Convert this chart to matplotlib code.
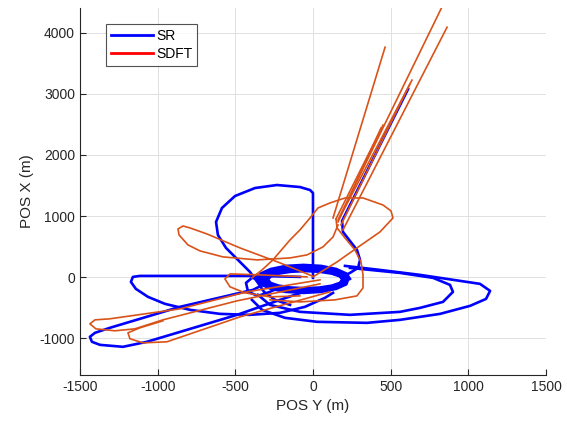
import matplotlib
matplotlib.use('Agg')
import matplotlib.pyplot as plt
from matplotlib.lines import Line2D

plt.rcParams['font.family'] = ['Liberation Sans', 'DejaVu Sans']
plt.rcParams['axes.unicode_minus'] = False

# SR trajectory pieces, (pos_y, pos_x) in metres
sr_descent = [(612, 3077), (187, 920), (193, 740), (238, 593), (283, 446),
              (303, 283), (290, 152), (238, 70), (215, 40)]
# the circling near the origin, outer turn to inner turn
sr_loops = [(238, -28), (215, 60), (150, 134), (54, 184), (-61, 201), (-176, 184),
            (-272, 134), (-337, 60), (-360, -28), (-337, -116), (-272, -190),
            (-176, -240), (-61, -257), (54, -240), (150, -190), (215, -116),
            (227, -31), (205, 47), (143, 114), (51, 158), (-58, 174), (-167, 158),
            (-259, 114), (-321, 47), (-343, -31), (-321, -109), (-259, -176),
            (-167, -220), (-58, -236), (51, -220), (143, -176), (205, -109),
            (215, -34), (194, 35), (136, 93), (48, 132), (-55, 146), (-158, 132),
            (-246, 93), (-304, 35), (-325, -34), (-304, -103), (-246, -161),
            (-158, -200), (-55, -214), (48, -200), (136, -161), (194, -103),
            (203, -37), (184, 24), (128, 76), (46, 111), (-52, 123), (-150, 111),
            (-232, 76), (-288, 24), (-307, -37), (-288, -98), (-232, -150),
            (-150, -185), (-52, -197), (46, -185), (128, -150), (184, -98),
            (190, -40), (172, 14), (120, 59), (42, 89), (-50, 100), (-142, 89),
            (-220, 59), (-272, 14), (-290, -40), (-272, -94), (-220, -139),
            (-142, -169), (-50, -180), (42, -169), (120, -139), (172, -94), (190, -40)]
sr_dome = [(0, -11), (0, 1377), (-19, 1426), (-84, 1475), (-232, 1508), (-373, 1459),
           (-502, 1328), (-586, 1132), (-624, 904), (-612, 691), (-560, 479),
           (-483, 283), (-406, 87), (-354, -93), (-315, -240), (-245, -371), (-148, -453)]
sr_left = [(-84, 5), (-360, 21), (-1114, 21), (-1159, 5), (-1172, -77), (-1140, -191),
           (-1062, -322), (-953, -436), (-792, -534), (-599, -600), (-406, -616),
           (-212, -583), (-52, -485), (77, -338), (129, -256)]
sr_tail = [(-296, -93), (-386, -207), (-856, -485), (-1307, -828), (-1403, -910),
           (-1436, -975), (-1423, -1057), (-1371, -1107), (-1223, -1139),
           (-1069, -1057), (-489, -616), (-212, -371), (-60, -240)]
sr_outer = [(206, 185), (431, 119), (689, 38), (946, -60), (1075, -109), (1140, -224),
            (1114, -355), (1011, -469), (818, -600), (560, -698), (348, -747),
            (26, -730), (-180, -665), (-328, -534), (-393, -371)]
sr_inner = [(238, 152), (560, 70), (773, -11), (882, -126), (901, -240), (837, -404),
            (689, -502), (560, -567), (238, -616), (-84, -567), (-277, -453), (-354, -289)]
sr_small = [(-309, -44), (-393, -11), (-431, -93), (-418, -240), (-354, -306),
            (-277, -240), (-200, -150)]

# SDFT trajectory pieces
spike_base = [(129, 969), (161, 936), (193, 773), (174, 985), (180, 855), (148, 953), (161, 904)]
spike_tip = [(464, 3763), (830, 4420), (863, 4090), (637, 3224), (624, 3159), (451, 2489), (438, 2440)]
sdft_down = [(148, 953), (155, 806), (206, 642), (270, 446), (309, 250), (322, 38),
             (322, -175), (283, -306), (142, -371), (-84, -404), (-277, -371)]
sdft_hat = [(0, 5), (155, 250), (283, 479), (431, 740), (515, 969), (502, 1084),
            (451, 1181), (322, 1296), (206, 1296), (109, 1214), (32, 1132), (-19, 969),
            (-84, 773), (-148, 609), (-258, 283), (-328, 119), (-393, -11)]
sdft_bow = [(-6, 21), (-212, 234), (-470, 479), (-682, 707), (-792, 806), (-837, 838),
            (-869, 789), (-862, 691), (-805, 528), (-727, 430), (-579, 332), (-360, 283),
            (-148, 315), (-39, 364), (64, 495), (129, 658), (161, 855)]
sdft_loop_a = [(45, -44), (-425, -240), (-856, -518), (-1307, -681), (-1403, -698),
               (-1436, -763), (-1397, -845), (-1275, -877), (-1146, -845), (-966, -698),
               (-489, -387), (45, -109)]
sdft_loop_b = [(109, -240), (-470, -649), (-940, -1057), (-1094, -1074), (-1178, -1008),
               (-1191, -910), (-1114, -828), (-966, -714)]
sdft_small = [(-39, 5), (-341, 38), (-534, 54), (-567, -28), (-534, -158), (-438, -256),
              (-277, -322), (-84, -306)]

blue = '#0000ff'
orange = '#d95319'

fig = plt.figure(figsize=(5.67, 4.23), dpi=100)
ax = fig.add_axes((0.141, 0.1135, 0.822, 0.867))

for seg in [sr_descent, sr_loops, sr_dome, sr_left, sr_tail, sr_outer, sr_inner, sr_small]:
    ys, xs = zip(*seg)
    ax.plot(ys, xs, color=blue, lw=1.9, solid_joinstyle='round', zorder=2)

for b, t in zip(spike_base, spike_tip):
    ax.plot([b[0], t[0]], [b[1], t[1]], color=orange, lw=1.2, zorder=3)
for seg in [sdft_down, sdft_hat, sdft_bow, sdft_loop_a, sdft_loop_b, sdft_small]:
    ys, xs = zip(*seg)
    ax.plot(ys, xs, color=orange, lw=1.2, solid_joinstyle='round', zorder=3)

ax.set_xlim(-1500, 1500)
ax.set_ylim(-1600, 4400)
ax.set_xticks(range(-1500, 1501, 500))
ax.set_yticks(range(-1000, 4001, 1000))
ax.grid(True, color='#e0e0e0', lw=0.7)
ax.set_axisbelow(True)
for s in ['top', 'right']:
    ax.spines[s].set_visible(False)
for s in ['left', 'bottom']:
    ax.spines[s].set_color('#262626')
    ax.spines[s].set_linewidth(0.8)
ax.tick_params(direction='in', length=4, colors='#262626', labelsize=10)
ax.set_xlabel('POS Y (m)', fontsize=11, color='#262626')
ax.set_ylabel('POS X (m)', fontsize=11, color='#262626')

handles = [Line2D([], [], color=blue, lw=2), Line2D([], [], color='#ff0000', lw=2)]
leg = ax.legend(handles, ['SR', 'SDFT'], loc='upper left', bbox_to_anchor=(0.056, 0.957),
                borderaxespad=0, fancybox=False, fontsize=10, handlelength=3.0,
                handletextpad=0.25, labelspacing=0.3, borderpad=0.35)
leg.get_frame().set_edgecolor('#262626')
leg.get_frame().set_linewidth(0.8)

fig.savefig('out.png', dpi=100)
